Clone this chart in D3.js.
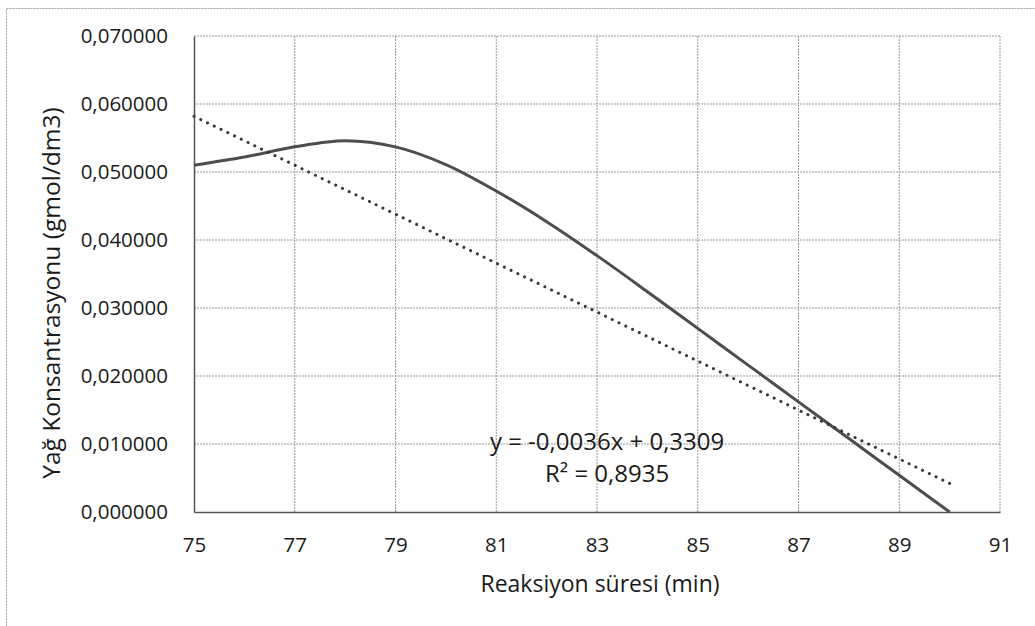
<!DOCTYPE html>
<html>
<head>
<meta charset="utf-8">
<script src="https://cdn.jsdelivr.net/npm/d3@7"></script>
<style>
  body { margin: 0; background: #fff; }
  svg text { font-family: 'Open Sans', sans-serif; fill: #1a1a1a; }
</style>
</head>
<body>
<div id="chart"></div>
<script>
'use strict';

// Reaction time (min) and oil concentration
const times = [75, 76, 77, 78, 79, 80, 81, 82, 83, 84, 85, 86, 87, 88, 89, 90];
const concentration = [0.0510, 0.0522, 0.0537, 0.0546, 0.0537, 0.0511, 0.0472, 0.0427, 0.0377, 0.0324,
    0.0270, 0.0216, 0.0162, 0.0108, 0.0054, 0.0000];

// Linear trendline end points as drawn
const trendTimes = [75, 90];
const trendValues = [0.0582, 0.0042];

const xTicks = [75, 77, 79, 81, 83, 85, 87, 89, 91];
const yTicks = [0, 0.01, 0.02, 0.03, 0.04, 0.05, 0.06, 0.07];

const equationLabel = 'y = -0,0036x + 0,3309';
const rSquaredLabel = 'R² = 0,8935';
const xTitle = 'Reaksiyon süresi (min)';
const yTitle = 'Yağ Konsantrasyonu (gmol/dm3)';

const width = 1035, height = 626;
const margins = { top: 36, right: 35, bottom: 114, left: 194 };
const chartWidth = width - margins.left - margins.right;
const chartHeight = height - margins.top - margins.bottom;

const svg = d3.select('#chart').append('svg')
    .attr('width', width)
    .attr('height', height);

// Outer chart frame (runs off the page on the right and bottom)
svg.append('rect')
    .attr('x', 6.5).attr('y', 8.5)
    .attr('width', 1100).attr('height', 700)
    .attr('fill', 'none')
    .attr('stroke', '#a0a0a0')
    .attr('stroke-dasharray', '2 1');

const chart = svg.append('g')
    .attr('transform', `translate(${margins.left}, ${margins.top})`);

const scaleX = d3.scaleLinear().domain([75, 91]).range([0, chartWidth]);
const scaleY = d3.scaleLinear().domain([0, 0.07]).range([chartHeight, 0]);

const commaFmt = d3.formatLocale({ decimal: ',', thousands: '.', grouping: [3], currency: ['', ''] });
const yFormat = commaFmt.format('.6f');

// Gridlines
chart.append('g')
    .selectAll('line.hgrid')
    .data(yTicks.filter(d => d > 0))
    .join('line')
    .classed('hgrid', true)
    .attr('x1', 0).attr('x2', chartWidth)
    .attr('y1', d => scaleY(d)).attr('y2', d => scaleY(d))
    .attr('stroke', '#999')
    .attr('stroke-dasharray', '2 1');

chart.append('g')
    .selectAll('line.vgrid')
    .data(xTicks.filter(d => d > 75))
    .join('line')
    .classed('vgrid', true)
    .attr('x1', d => scaleX(d)).attr('x2', d => scaleX(d))
    .attr('y1', 0).attr('y2', chartHeight)
    .attr('stroke', '#999')
    .attr('stroke-dasharray', '2 1');

// Axes (domain lines only, labels via d3 axis)
const axisGenX = d3.axisBottom(scaleX).tickValues(xTicks).tickSize(0).tickPadding(25);
const axisGenY = d3.axisLeft(scaleY).tickValues(yTicks).tickSize(0).tickPadding(26).tickFormat(yFormat);

const axisX = chart.append('g')
    .attr('transform', `translate(0, ${chartHeight})`)
    .call(axisGenX);
const axisY = chart.append('g').call(axisGenY);

[axisX, axisY].forEach(a => {
    a.select('.domain').attr('stroke', '#555').attr('stroke-width', 1.5);
    a.selectAll('text')
        .style('font-family', "'Open Sans', sans-serif")
        .style('font-size', '20.5px')
        .attr('fill', '#1a1a1a');
});

// Measured curve
const lineGen = d3.line()
    .x((d, i) => scaleX(times[i]))
    .y(d => scaleY(d))
    .curve(d3.curveCatmullRom);

chart.append('path')
    .datum(concentration)
    .attr('d', lineGen)
    .attr('fill', 'none')
    .attr('stroke', '#4d4d4d')
    .attr('stroke-width', 3);

// Dotted linear trendline
const trendGen = d3.line()
    .x((d, i) => scaleX(trendTimes[i]))
    .y(d => scaleY(d));

chart.append('path')
    .datum(trendValues)
    .attr('d', trendGen)
    .attr('fill', 'none')
    .attr('stroke', '#3a3a3a')
    .attr('stroke-width', 3)
    .attr('stroke-linecap', 'round')
    .attr('stroke-dasharray', '0.1 7.4');

// Trendline equation
chart.append('text')
    .attr('x', scaleX(83.2)).attr('y', scaleY(0.0091))
    .attr('text-anchor', 'middle')
    .style('font-size', '24px')
    .text(equationLabel);

chart.append('text')
    .attr('x', scaleX(83.2)).attr('y', scaleY(0.0044))
    .attr('text-anchor', 'middle')
    .style('font-size', '24px')
    .text(rSquaredLabel);

// Axis titles
svg.append('text')
    .attr('x', 600).attr('y', 592)
    .attr('text-anchor', 'middle')
    .style('font-size', '23px')
    .text(xTitle);

svg.append('text')
    .attr('transform', 'translate(60, 293) rotate(-90)')
    .attr('text-anchor', 'middle')
    .style('font-size', '24.5px')
    .text(yTitle);
</script>
</body>
</html>
